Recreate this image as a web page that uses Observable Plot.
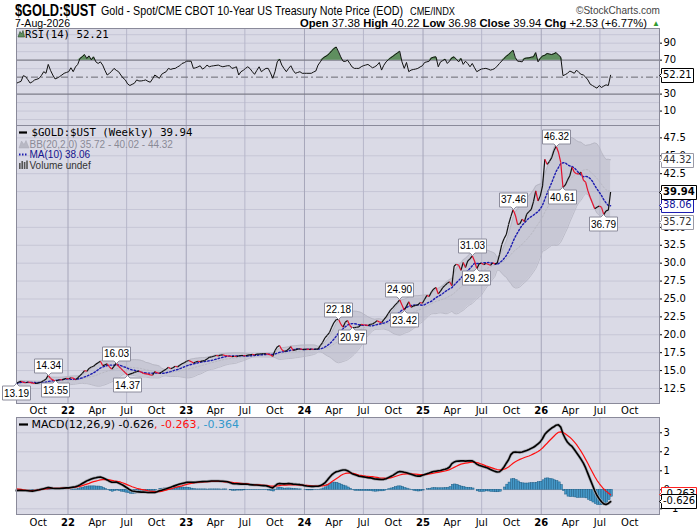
<!DOCTYPE html>
<html>
<head>
<meta charset="utf-8">
<script src="https://cdn.jsdelivr.net/npm/d3@7"></script>
<script src="https://cdn.jsdelivr.net/npm/@observablehq/plot@0.6"></script>
<style>
  body { margin: 0; background: #fff; }
  #wrap { position: relative; width: 700px; height: 530px; overflow: hidden; background: #fff; }
  #wrap > svg { position: absolute; left: 0; }
  .tag-gray text, .tag-gray tspan { fill: #333 !important; stroke: none !important; }
  .tag-blue text, .tag-blue tspan { fill: #10109a !important; stroke: none !important; }
  .tag-black text, .tag-black tspan { fill: #000 !important; stroke: none !important; }
  .tag-red text, .tag-red tspan { fill: #000 !important; stroke: none !important; }
  .callout text, .callout tspan { fill: #000 !important; stroke: none !important; }
</style>
</head>
<body>
<div id="wrap"></div>
<script>
// ---------------- DATA (weekly, Mondays from 2021-07-26 to 2026-08-03) ----------------
const firstWeek = "2021-07-26";
const lastWeek = "2026-08-03";

const price = [
  13.19,13.4,13.5,13.35,13.3,13.4,13.35,13.25,13.2,13.22,
  13.3,13.4,13.6,13.8,14.34,13.9,13.7,13.55,13.6,13.75,
  13.7,13.8,13.9,13.85,14.0,13.95,13.7,14.0,14.3,14.6,
  15.0,14.9,15.3,15.5,15.6,15.9,16.1,16.3,15.7,15.8,
  15.95,15.5,15.2,15.6,16.03,15.6,15.3,15.0,14.7,14.37,
  14.5,14.6,14.75,14.85,14.95,14.8,14.6,14.55,14.5,14.4,
  14.35,14.85,14.7,14.6,14.8,15.0,15.2,15.45,15.25,15.4,
  15.6,15.5,15.75,15.95,16.1,16.3,16.4,16.25,16.05,16.2,
  16.3,16.25,16.35,16.4,16.6,16.85,16.9,17.0,17.1,17.05,
  17.15,17.2,17.1,17.05,17.0,16.95,17.0,16.95,17.05,17.1,
  17.1,17.05,17.15,17.2,17.25,17.2,17.3,17.3,17.35,17.35,
  17.35,17.3,17.2,16.97,17.8,18.3,18.5,17.9,17.7,17.75,
  18.0,18.35,17.8,17.9,18.0,18.05,17.95,17.95,18.0,17.95,
  18.0,17.98,18.0,18.0,18.5,18.95,19.56,19.9,20.3,21.06,
  21.7,22.1,22.18,21.5,21.06,21.76,22.0,21.3,20.97,21.0,
  21.05,21.1,21.45,21.4,21.35,21.3,21.45,21.5,21.7,21.97,
  21.8,21.7,22.1,22.5,23.0,23.47,23.8,24.17,24.5,24.9,
  24.17,23.42,24.0,24.6,23.85,24.0,24.1,24.17,24.5,24.4,
  24.96,25.5,25.35,26.0,26.4,26.6,25.7,26.1,26.6,26.9,
  27.2,27.4,26.85,29.6,29.85,29.7,29.0,30.1,29.4,30.3,
  30.6,31.03,30.3,29.23,29.9,30.0,29.8,29.95,29.85,29.7,
  30.05,29.9,30.0,31.2,32.6,33.4,34.0,35.4,36.5,37.46,
  36.7,35.4,35.5,36.15,35.8,36.84,37.2,37.5,38.6,40.1,
  38.7,39.4,40.8,44.5,43.8,44.2,44.7,45.7,46.32,45.5,
  44.1,40.61,40.9,41.6,42.2,43.4,42.7,42.5,42.45,42.7,
  41.6,41.3,40.1,39.2,38.4,37.6,37.8,38.0,37.8,36.79,
  37.3,37.41,39.94
];

const rsi = [
  42.8,44,45,51.7,50.6,47,43,44.5,46.7,47.5,
  48.6,52,56.4,54.5,65,58,52.5,47.9,49,50.6,
  52.5,54.5,55.5,56.4,61,56.4,62,65,72,74,
  76.6,72,75,70.4,73.9,68,66.1,68,64.2,58,
  52.5,54.5,57,60.3,58,56.4,52.5,49,46.7,42,
  40.1,41.5,42.8,46.7,45.5,45.5,46,46.7,45,44,
  48,52.5,50.6,48.6,53.3,55,56.4,60.3,59.1,60,
  60.3,62,63.4,66.1,67,68.8,68.8,68.8,60.3,61,
  62,63.4,59.5,61,64.2,62.2,63,63.4,63.8,64.2,
  63,62.2,62.8,63.4,63.4,60.3,61,62.2,52.5,56.4,
  58,60.3,62.2,60,56.4,53.3,58,62.2,56.4,58.5,
  60.3,60.3,55,48.6,56.4,68,71.2,64.2,60,56.4,
  60.3,63.4,58,54.5,55.5,56.4,54.5,54.5,54.5,54.5,
  54.5,56,57.2,64.2,68,72,73.9,75.5,77.8,81,
  83.6,85.5,80,73.9,68.8,68.5,70,66.1,62,60.3,
  60.3,60.3,62.2,63.5,64.2,65,63,61,62.2,64,
  67.3,58.3,64,68,70.5,72.7,74.5,76.6,78.5,80.5,
  68,60.3,67.3,56.4,58.3,59,59.5,60.3,62,63.4,
  67.3,68,68.8,72.7,73.5,73.9,62.2,68,69.5,71.2,
  66.1,69,72.7,73.9,71,68,72,65,68.8,66,
  62.2,66.1,61,56.4,58,59.5,60,60.3,59.5,58.3,
  59,60.3,63,66.1,69,72,74.5,76.6,79,81.7,
  73,68.8,68.5,68,72,72.5,72.7,73.5,73.9,78.9,
  68,72,75,75.7,77.8,77.2,76.6,77.5,78.9,76,
  73.9,51.7,53,54.5,57.2,56,54.5,58.3,55.5,53.3,
  52.5,50,46.7,41.7,40.1,38.5,37,40.1,37.8,39.5,
  40.9,40.1,52.21
];

const macd = [
  -0.04,-0.03,-0.03,-0.04,-0.04,-0.05,-0.06,-0.07,-0.05,-0.02,
  0,0.03,0.06,0.09,0.12,0.1,0.08,0.07,0.07,0.07,
  0.08,0.09,0.1,0.1,0.12,0.14,0.16,0.2,0.26,0.33,
  0.4,0.47,0.52,0.57,0.61,0.63,0.66,0.67,0.63,0.58,
  0.52,0.45,0.4,0.4,0.41,0.36,0.3,0.24,0.16,0.08,
  0,-0.06,-0.08,-0.1,-0.11,-0.12,-0.12,-0.13,-0.14,-0.14,
  -0.14,-0.14,-0.1,-0.05,-0.02,0.02,0.05,0.09,0.13,0.18,
  0.22,0.26,0.3,0.33,0.36,0.39,0.4,0.4,0.39,0.4,
  0.41,0.42,0.43,0.44,0.44,0.45,0.46,0.46,0.46,0.46,
  0.45,0.45,0.44,0.42,0.38,0.34,0.32,0.32,0.31,0.3,
  0.3,0.3,0.29,0.27,0.26,0.25,0.25,0.24,0.23,0.22,
  0.21,0.18,0.13,0.1,0.2,0.3,0.33,0.32,0.31,0.32,
  0.33,0.32,0.3,0.29,0.28,0.27,0.25,0.22,0.2,0.19,
  0.18,0.18,0.19,0.19,0.22,0.28,0.36,0.5,0.65,0.78,
  0.88,0.95,0.98,1.02,1.04,1.04,1,0.93,0.85,0.8,
  0.76,0.72,0.7,0.68,0.66,0.64,0.63,0.6,0.57,0.56,
  0.55,0.54,0.55,0.58,0.64,0.7,0.76,0.84,0.92,0.96,
  0.95,0.92,0.9,0.86,0.82,0.78,0.74,0.72,0.72,0.76,
  0.8,0.84,0.88,0.93,0.96,0.98,1,1.02,1.05,1.08,
  1.12,1.2,1.38,1.46,1.5,1.51,1.52,1.52,1.51,1.52,
  1.53,1.52,1.45,1.35,1.29,1.25,1.21,1.18,1.13,1.07,
  1.02,0.97,0.94,0.95,1.05,1.2,1.4,1.58,1.85,1.97,
  1.99,1.98,1.97,1.99,2.03,2.07,2.12,2.18,2.24,2.32,
  2.42,2.52,2.7,2.92,3.05,3.15,3.25,3.32,3.4,3.42,
  3.3,2.95,2.7,2.5,2.38,2.28,2.12,1.95,1.78,1.6,
  1.4,1.15,0.85,0.55,0.25,-0.05,-0.3,-0.48,-0.63,-0.74,
  -0.77,-0.72,-0.626
];

const signal = [
  0.05,0.04,0.02,0,-0.02,-0.03,-0.04,-0.04,-0.03,-0.02,
  0,0.02,0.03,0.05,0.06,0.07,0.07,0.08,0.08,0.08,
  0.09,0.09,0.1,0.1,0.11,0.12,0.14,0.16,0.18,0.22,
  0.26,0.3,0.34,0.39,0.43,0.46,0.49,0.52,0.54,0.54,
  0.54,0.52,0.5,0.47,0.45,0.43,0.4,0.36,0.31,0.26,
  0.21,0.16,0.12,0.08,0.05,0.02,0,-0.02,-0.05,-0.07,
  -0.08,-0.09,-0.1,-0.1,-0.08,-0.05,-0.02,0.02,0.05,0.08,
  0.12,0.15,0.18,0.21,0.25,0.28,0.31,0.34,0.36,0.38,
  0.39,0.4,0.41,0.42,0.43,0.43,0.44,0.44,0.44,0.44,
  0.44,0.43,0.42,0.42,0.41,0.39,0.37,0.36,0.35,0.34,
  0.33,0.32,0.31,0.29,0.28,0.27,0.26,0.26,0.25,0.24,
  0.23,0.22,0.2,0.19,0.19,0.2,0.22,0.24,0.25,0.25,
  0.26,0.26,0.26,0.26,0.26,0.25,0.25,0.24,0.23,0.22,
  0.21,0.2,0.2,0.2,0.2,0.21,0.23,0.26,0.33,0.42,
  0.5,0.58,0.66,0.75,0.82,0.86,0.88,0.88,0.87,0.85,
  0.81,0.78,0.76,0.74,0.72,0.71,0.7,0.69,0.67,0.65,
  0.63,0.62,0.61,0.6,0.61,0.63,0.66,0.7,0.74,0.78,
  0.81,0.83,0.84,0.84,0.84,0.83,0.82,0.81,0.8,0.8,
  0.8,0.81,0.83,0.85,0.87,0.9,0.92,0.94,0.97,0.99,
  1.02,1.06,1.12,1.18,1.24,1.3,1.35,1.38,1.4,1.42,
  1.44,1.45,1.45,1.43,1.4,1.36,1.31,1.26,1.22,1.18,
  1.14,1.1,1.07,1.05,1.05,1.08,1.13,1.2,1.3,1.4,
  1.48,1.54,1.6,1.65,1.7,1.74,1.78,1.83,1.89,1.95,
  2.02,2.1,2.2,2.33,2.45,2.58,2.7,2.82,2.94,3.03,
  3.05,3.02,2.95,2.86,2.77,2.65,2.52,2.38,2.2,2.02,
  1.82,1.6,1.38,1.15,0.92,0.7,0.5,0.33,0.18,0.04,
  -0.07,-0.17,-0.263
];

// swing labels on the price panel
const swingHighs = [
  {date: "2021-11-01", value: 14.34}, {date: "2022-05-30", value: 16.03},
  {date: "2024-04-15", value: 22.18}, {date: "2024-10-21", value: 24.90},
  {date: "2025-06-02", value: 31.03}, {date: "2025-10-06", value: 37.46},
  {date: "2026-02-16", value: 46.32}
];
const swingLows = [
  {date: "2021-07-26", value: 13.19}, {date: "2021-11-22", value: 13.55},
  {date: "2022-07-04", value: 14.37}, {date: "2024-05-27", value: 20.97},
  {date: "2024-11-04", value: 23.42}, {date: "2025-06-16", value: 29.23},
  {date: "2026-03-09", value: 40.61}, {date: "2026-07-13", value: 36.79}
];

// last values shown in the right-hand tags
const bbLast = {lower: 35.72, middle: 40.02, upper: 44.32};
const maLast = 38.06;
const closeLast = 39.94;
const rsiLast = 52.21;
const macdLast = {macd: -0.626, signal: -0.263, hist: -0.364};

// axis ticks
const quarterTicks = ["2021-10-01","2022-01-01","2022-04-01","2022-07-01","2022-10-01","2023-01-01","2023-04-01","2023-07-01","2023-10-01","2024-01-01","2024-04-01","2024-07-01","2024-10-01","2025-01-01","2025-04-01","2025-07-01","2025-10-01","2026-01-01","2026-04-01","2026-07-01","2026-10-01"];
const quarterLabels = ["Oct","22","Apr","Jul","Oct","23","Apr","Jul","Oct","24","Apr","Jul","Oct","25","Apr","Jul","Oct","26","Apr","Jul","Oct"];
const janLines = ["2022-01-01","2023-01-01","2024-01-01","2025-01-01","2026-01-01"];
const julLines = ["2022-07-01","2023-07-01","2024-07-01","2025-07-01","2026-07-01"];
const priceGrid = [12.5,15,17.5,20,22.5,25,27.5,30,32.5,35,37.5,40,42.5,45,47.5];
const priceTickLabels = [12.5,15,17.5,20,22.5,25,27.5,30,32.5,35,37.5,42.5,45,47.5];
const rsiTicks = [10,30,70,90];
const rsiGrid = [0,10,20,40,60,80,90,100];
const macdTicks = [-1,0,1,2,3];
const xDomain = ["2021-07-26","2027-01-01"];

// ---------------- BUILD ----------------
const P = d => new Date(d + "T00:00:00Z");
const weeks = d3.utcMonday.range(P(firstWeek), d3.utcDay.offset(P(lastWeek), 1));

function rolling(arr, k, f) {
  return arr.map((_, i) => f(arr.slice(Math.max(0, i - k + 1), i + 1)));
}
const popDev = v => { const m = d3.mean(v); return Math.sqrt(d3.mean(v, x => (x - m) ** 2)); };
const ma10 = rolling(price, 10, d3.mean);
const mid20 = rolling(price, 20, d3.mean);
const sd20 = rolling(price, 20, popDev);

const rows = weeks.map((d, i) => ({
  date: d, close: price[i], ma: ma10[i], mid: mid20[i],
  hi: mid20[i] + 2 * sd20[i], lo: mid20[i] - 2 * sd20[i],
  rsi: rsi[i], macd: macd[i], sig: signal[i], hist: macd[i] - signal[i],
  end: d3.utcDay.offset(d, 7)
}));
const segs = rows.slice(1).map((r, i) => ({d1: rows[i].date, v1: rows[i].close, d2: r.date, v2: r.close, up: r.close >= rows[i].close}));

const labelMap = new Map(quarterTicks.map((d, i) => [+P(d), quarterLabels[i]]));
const yearTicks = quarterTicks.filter((d, i) => /^\d+$/.test(quarterLabels[i])).map(P);
const monthTicks = quarterTicks.filter((d, i) => !/^\d+$/.test(quarterLabels[i])).map(P);
const fmtX = d => labelMap.get(+d);

const BG = "#dadae6", GRID = "#c6c6d6", GRID_JUL = "#b6b6ca", GRID_JAN = "#a6a6ba", FRAME = "#8a8a9a";
const FONT = "DejaVu Sans, Verdana, sans-serif";
const X = {type: "utc", domain: xDomain.map(P)};

function base(height, mt, mb) {
  return {
    width: 700, height, marginLeft: 16, marginRight: 41, marginTop: mt, marginBottom: mb,
    style: {background: "transparent", overflow: "visible", fontFamily: FONT, fontSize: "10px", color: "#000"}
  };
}
function vGrid() {
  return [
    Plot.ruleX(julLines.map(P), {stroke: GRID_JUL, strokeWidth: 1}),
    Plot.ruleX(janLines.map(P), {stroke: GRID_JAN, strokeWidth: 1})
  ];
}
function xAxes(pad) {
  return [
    Plot.axisX(monthTicks, {anchor: "bottom", tickSize: 0, tickPadding: pad, tickFormat: fmtX, fontSize: 10, fontFamily: FONT}),
    Plot.axisX(yearTicks, {anchor: "bottom", tickSize: 0, tickPadding: pad, tickFormat: fmtX, fontSize: 10, fontFamily: FONT, fontWeight: "bold"})
  ];
}
function tag(value, text, stroke, cls, bold) {
  return Plot.tip([{v: value, t: text}], {
    y: "v", title: "t", frameAnchor: "right", anchor: "left",
    fill: "white", stroke, strokeWidth: 1, fontSize: 10, fontFamily: FONT, fontWeight: bold ? "bold" : "normal",
    textPadding: 1.5, pointerSize: 4, pathFilter: "none", className: cls
  });
}

// RSI panel
const rsiPlot = Plot.plot({
  ...base(99, 1, 1),
  x: {...X, axis: null},
  y: {domain: [-7, 107.3]},
  marks: [
    Plot.frame({fill: BG, stroke: null}),
    Plot.ruleY(rsiGrid, {stroke: GRID}),
    ...vGrid(),
    Plot.ruleY([70, 30], {stroke: "#7c7c88", strokeWidth: 1.2}),
    Plot.ruleY([50], {stroke: "#6a6a72", strokeDasharray: "7,3,2,3"}),
    Plot.areaY(rows, {x: "date", y1: d => 70, y2: d => Math.max(70, d.rsi), fill: "#5f8f5f"}),
    Plot.areaY(rows, {x: "date", y1: d => 30, y2: d => Math.min(30, d.rsi), fill: "#5f8f5f"}),
    Plot.lineY(rows, {x: "date", y: "rsi", stroke: "#111", strokeWidth: 1}),
    Plot.axisY(rsiTicks, {anchor: "right", tickSize: 2, tickPadding: 2, fontSize: 10, fontFamily: FONT}),
    Plot.frame({stroke: FRAME}),
    tag(rsiLast, "52.21", "#000", "tag-black", false)
  ]
});

// Price panel
const pricePlot = Plot.plot({
  ...base(294, 1, 15),
  x: X,
  y: {domain: [10.4, 49.23]},
  marks: [
    Plot.frame({fill: BG, stroke: null}),
    Plot.ruleY(priceGrid, {stroke: GRID}),
    ...vGrid(),
    Plot.areaY(rows, {x: "date", y1: "lo", y2: "hi", fill: "#b2b2c0", fillOpacity: 0.45}),
    Plot.lineY(rows, {x: "date", y: "hi", stroke: "#b4b4c0", strokeWidth: 0.8}),
    Plot.lineY(rows, {x: "date", y: "lo", stroke: "#b4b4c0", strokeWidth: 0.8}),
    Plot.lineY(rows, {x: "date", y: "mid", stroke: "#b8b8c2", strokeWidth: 1, strokeDasharray: "1.5,2"}),
    Plot.lineY(rows, {x: "date", y: "ma", stroke: "#1c1cb0", strokeWidth: 1.4, strokeDasharray: "1.6,2"}),
    Plot.link(segs.filter(s => s.up), {x1: "d1", y1: "v1", x2: "d2", y2: "v2", stroke: "#111", strokeWidth: 1.2}),
    Plot.link(segs.filter(s => !s.up), {x1: "d1", y1: "v1", x2: "d2", y2: "v2", stroke: "#e4102c", strokeWidth: 1.2}),
    Plot.axisY(priceTickLabels, {anchor: "right", tickSize: 2, tickPadding: 2, tickFormat: d3.format(".1f"), fontSize: 10, fontFamily: FONT}),
    ...xAxes(3),
    Plot.frame({stroke: FRAME}),
    Plot.tip(swingHighs, {x: d => P(d.date), y: "value", title: d => d.value.toFixed(2), anchor: "bottom",
      fill: "white", stroke: "#8c8c9c", fontSize: 10, fontFamily: "Liberation Sans, Arial, sans-serif",
      textPadding: 1.5, pointerSize: 5, pathFilter: "none", className: "callout"}),
    Plot.tip(swingLows, {x: d => P(d.date), y: "value", title: d => d.value.toFixed(2), anchor: "top",
      fill: "white", stroke: "#8c8c9c", fontSize: 10, fontFamily: "Liberation Sans, Arial, sans-serif",
      textPadding: 1.5, pointerSize: 5, pathFilter: "none", className: "callout"}),
    tag(bbLast.upper, "44.32", "#9a9aa6", "tag-gray", false),
    tag(bbLast.lower, "35.72", "#9a9aa6", "tag-gray", false),
    tag(maLast, "38.06", "#1c1cb0", "tag-blue", false),
    tag(closeLast, "39.94", "#000", "tag-black", true)
  ]
});

// MACD panel
const macdPlot = Plot.plot({
  ...base(114, 1, 16),
  x: X,
  y: {domain: [-1.3, 3.805]},
  marks: [
    Plot.frame({fill: BG, stroke: null}),
    Plot.ruleY(macdTicks, {stroke: GRID}),
    ...vGrid(),
    Plot.rect(rows, {x1: "date", x2: "end", y1: d => 0, y2: "hist", fill: "#4598c8", stroke: "#1d5e86", strokeWidth: 0.5}),
    Plot.lineY(rows, {x: "date", y: "macd", stroke: "#a8a8b0", strokeWidth: 3}),
    Plot.lineY(rows, {x: "date", y: "sig", stroke: "#ff1010", strokeWidth: 1.2}),
    Plot.lineY(rows, {x: "date", y: "macd", stroke: "#000", strokeWidth: 1.6}),
    Plot.axisY(macdTicks, {anchor: "right", tickSize: 2, tickPadding: 2, fontSize: 10, fontFamily: FONT}),
    ...xAxes(4),
    Plot.frame({stroke: FRAME}),
    tag(macdLast.signal, "-0.263", "#ff2020", "tag-red", false),
    tag(macdLast.macd, "-0.626", "#000", "tag-black", false)
  ]
});

const wrap = document.getElementById("wrap");
rsiPlot.style.top = "27px";
pricePlot.style.top = "124px";
macdPlot.style.top = "416px";
wrap.appendChild(rsiPlot);
wrap.appendChild(pricePlot);
wrap.appendChild(macdPlot);

// Header and legends (text)
const NS = "http://www.w3.org/2000/svg";
const ov = document.createElementNS(NS, "svg");
ov.setAttribute("width", 700); ov.setAttribute("height", 530);
ov.style.top = "0px"; ov.style.pointerEvents = "none";
ov.innerHTML = `
  <g font-family="Liberation Sans, Arial, sans-serif">
    <text x="15" y="16" font-size="17" font-weight="bold" textLength="81" lengthAdjust="spacingAndGlyphs">$GOLD:$UST</text>
    <text x="101" y="15" font-size="12" textLength="302" lengthAdjust="spacingAndGlyphs">Gold - Spot/CME CBOT 10-Year US Treasury Note Price (EOD)</text>
    <text x="410" y="15" font-size="10" textLength="45" lengthAdjust="spacingAndGlyphs">CME/INDX</text>
    <text x="576" y="14" font-size="11" fill="#444" textLength="84" lengthAdjust="spacingAndGlyphs">©StockCharts.com</text>
    <text x="15" y="27" font-size="10.5" textLength="55" lengthAdjust="spacingAndGlyphs">7-Aug-2026</text>
    <text x="300" y="27" font-size="11.5" textLength="347" lengthAdjust="spacingAndGlyphs"><tspan font-weight="bold">Open</tspan> 37.38 <tspan font-weight="bold">High</tspan> 40.22 <tspan font-weight="bold">Low</tspan> 36.98 <tspan font-weight="bold">Close</tspan> 39.94 <tspan font-weight="bold">Chg</tspan> +2.53 (+6.77%)</text>
    <text x="652" y="26" font-size="8" fill="#2f9a2f">▲</text>
  </g>
  <g>
    <path d="M18,37 L20,31.5 L21.5,34 L23,30.5 L24.5,37 Z" fill="#5f8f5f" stroke="#2c4a2c" stroke-width="0.6"/>
    <text x="25" y="37.5" font-family="DejaVu Sans Mono, monospace" font-size="10.7">RSI(14) 52.21</text>

    <line x1="19" x2="27" y1="132.5" y2="132.5" stroke="#000" stroke-width="2.2"/>
    <text x="31.5" y="136.3" font-family="DejaVu Sans Mono, monospace" font-size="10.7">$GOLD:$UST (Weekly) 39.94</text>
    <path d="M19,148 L21.5,141 L24,144.5 L26,140.5 L29,148 Z" fill="#b8b8c4" stroke="#a8a8b4" stroke-width="0.5"/>
    <text x="29.5" y="148" font-family="Liberation Sans, Arial, sans-serif" font-size="10" fill="#8a8a96">BB(20,2.0) 35.72 - 40.02 - 44.32</text>
    <line x1="19" x2="28" y1="154.5" y2="154.5" stroke="#1c1cb0" stroke-width="2" stroke-dasharray="1.5,1.5"/>
    <text x="29.5" y="158.3" font-family="Liberation Sans, Arial, sans-serif" font-size="10" fill="#14148c">MA(10) 38.06</text>
    <g fill="#555">
      <rect x="19" y="163" width="1.6" height="6"/><rect x="21.4" y="161" width="1.6" height="8"/>
      <rect x="23.8" y="162" width="1.6" height="7"/><rect x="26.2" y="160.5" width="1.6" height="8.5"/>
    </g>
    <text x="29.5" y="168.5" font-family="Liberation Sans, Arial, sans-serif" font-size="10" fill="#333">Volume undef</text>

    <line x1="19" x2="28" y1="424.5" y2="424.5" stroke="#000" stroke-width="2.2"/>
    <text x="31.5" y="428.3" font-family="DejaVu Sans, Verdana, sans-serif" font-size="11">MACD(12,26,9) -0.626<tspan fill="#ff1010">, -0.263</tspan><tspan fill="#3399cc">, -0.364</tspan></text>
  </g>`;
wrap.appendChild(ov);
</script>
</body>
</html>
